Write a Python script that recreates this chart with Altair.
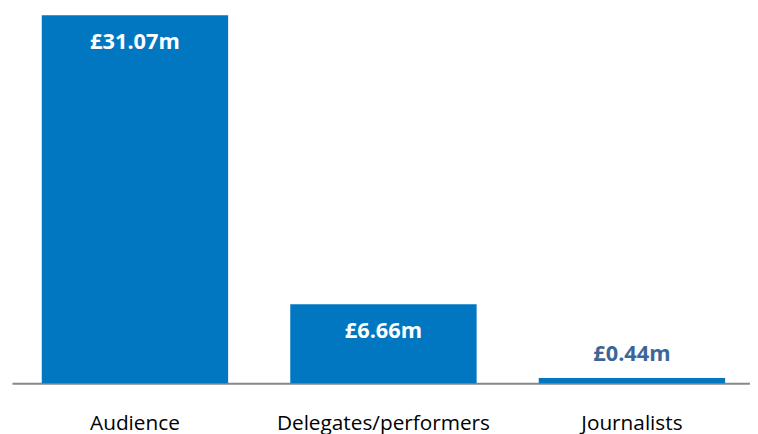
import altair as alt
import pandas as pd

categories = ["Audience", "Delegates/performers", "Journalists"]
values = [31.07, 6.66, 0.44]
labels = ["£31.07m", "£6.66m", "£0.44m"]
inside = [True, True, False]

df = pd.DataFrame({"category": categories, "value": values, "label": labels, "inside": inside})

FONT = "Open Sans"

x = alt.X("category:N", sort=categories, title=None,
          scale=alt.Scale(paddingInner=0.25, paddingOuter=0.12, range=[0, 751]),
          axis=alt.Axis(labelAngle=0, labelFontSize=21, labelFont=FONT, labelColor="#000000",
                        labelLimit=400, ticks=False, labelPadding=47, labelBaseline="alphabetic",
                        domainColor="#888888", domainWidth=2))
y = alt.Y("value:Q", scale=alt.Scale(domain=[0, 31.07], nice=False), axis=None)

base = alt.Chart(df).encode(x=x, y=y)

bars = base.mark_bar(color="#0077C0")

txt_in = base.mark_text(baseline="alphabetic", dy=34, fontSize=22, fontWeight="bold", font=FONT,
                        color="white").encode(text="label:N").transform_filter("datum.inside")
txt_out = base.mark_text(baseline="alphabetic", dy=-17, fontSize=22, fontWeight="bold", font=FONT,
                         color="#3D6696").encode(text="label:N").transform_filter("!datum.inside")

chart = (bars + txt_in + txt_out).properties(
    width=746, height=372,
    autosize=alt.AutoSizeParams(type="none"),
    padding={"left": 4, "top": 5, "right": 0, "bottom": 49}
).configure_view(stroke=None).configure_axis(grid=False)

chart.save("out.html", embed_options={"renderer": "svg", "actions": False})
